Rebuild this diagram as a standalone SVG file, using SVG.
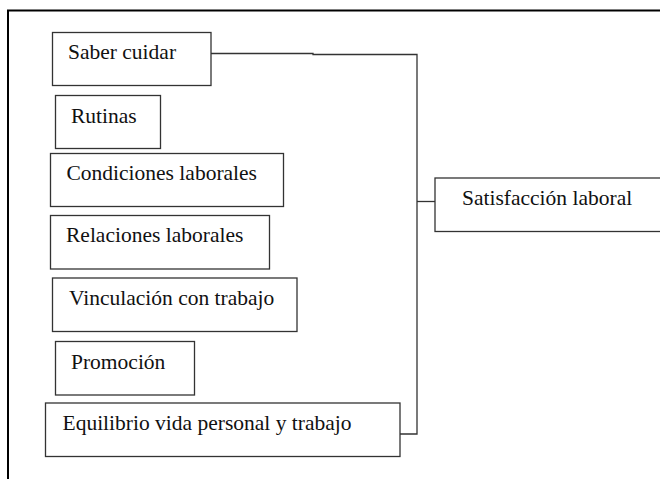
<svg xmlns="http://www.w3.org/2000/svg" width="660" height="479" viewBox="0 0 660 479">
<style>
.box{fill:#fff;stroke:#333;stroke-width:1.3}
.t{font-family:"Liberation Serif","Times New Roman",serif;font-size:21.5px;fill:#111}
.c{fill:none;stroke:#333;stroke-width:1.3}
.frame{fill:none;stroke:#000;stroke-width:2}
</style>
<rect width="660" height="479" fill="#fff"/>
<path class="frame" d="M8,479 V10.5 H660"/>
<g id="connectors">
<path class="c" d="M211,53.5 H313 V54.5 H417 V434 H400"/>
<path class="c" d="M417,201.5 H435"/>
</g>
<g id="n1"><rect class="box" x="52.5" y="32.5" width="158.5" height="53"/><text class="t" x="68" y="59">Saber cuidar</text></g>
<g id="n2"><rect class="box" x="55.5" y="95.5" width="105" height="53"/><text class="t" x="71" y="122.5">Rutinas</text></g>
<g id="n3"><rect class="box" x="50.5" y="153.5" width="233" height="53"/><text class="t" x="66.5" y="180">Condiciones laborales</text></g>
<g id="n4"><rect class="box" x="50.5" y="215.5" width="219" height="53.5"/><text class="t" x="66" y="242">Relaciones laborales</text></g>
<g id="n5"><rect class="box" x="52.5" y="278" width="244.5" height="53.5"/><text class="t" x="69" y="305">Vinculación con trabajo</text></g>
<g id="n6"><rect class="box" x="55.5" y="341.5" width="139" height="53.5"/><text class="t" x="71" y="369">Promoción</text></g>
<g id="n7"><rect class="box" x="45.5" y="403" width="354.5" height="53.5"/><text class="t" x="62.5" y="430">Equilibrio vida personal y trabajo</text></g>
<g id="n8"><rect class="box" x="435" y="178" width="230" height="53.5"/><text class="t" x="462" y="205">Satisfacción laboral</text></g>
</svg>
